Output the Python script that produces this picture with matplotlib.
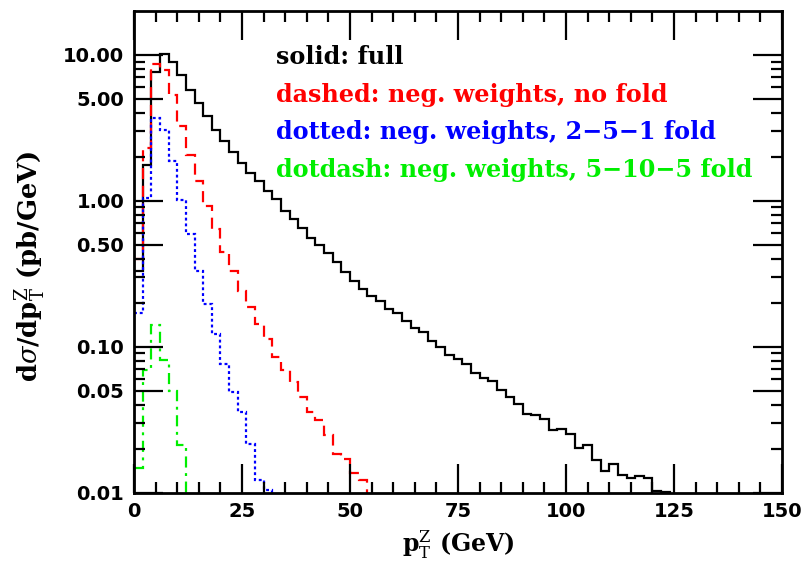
import numpy as np
import matplotlib
matplotlib.use("Agg")
import matplotlib.pyplot as plt

# pT^Z spectrum, 2 GeV bins starting at 0
bin_width = 2.0
full = [0.33, 1.77, 7.6, 10.2, 8.95, 7.3, 5.75, 4.67, 3.79, 3.07, 2.56, 2.16,
        1.817, 1.553, 1.362, 1.164, 1.023, 0.851, 0.746, 0.655, 0.558, 0.499,
        0.441, 0.378, 0.323, 0.283, 0.248, 0.223, 0.206, 0.1815,
        0.1695, 0.149, 0.1345, 0.1256, 0.110, 0.0993, 0.0871, 0.0826, 0.0764,
        0.0659, 0.061, 0.0578, 0.0502, 0.0452, 0.0407, 0.0348,
        0.0339, 0.0322, 0.0268, 0.0275, 0.0252, 0.0201, 0.0212, 0.0167,
        0.0141, 0.0156, 0.0132, 0.01265, 0.0131, 0.01254, 0.01027, 0.0101]
no_fold = [0.40, 2.30, 8.7, 7.9, 5.3, 3.24, 2.07, 1.36, 0.92, 0.638, 0.449,
           0.331, 0.241, 0.187, 0.143, 0.113, 0.0848, 0.0689, 0.0573, 0.0452,
           0.0357, 0.0313, 0.0248, 0.0184, 0.0169, 0.0136, 0.0122]
fold_251 = [0.171, 1.05, 3.67, 3.07, 1.87, 1.02, 0.59, 0.331, 0.196, 0.122,
            0.0764, 0.0489, 0.0357, 0.0217, 0.0123, 0.0104]
fold_5105 = [0.0148, 0.0689, 0.14, 0.0815, 0.0497, 0.0212]

yticks = [0.01, 0.05, 0.1, 0.5, 1, 5, 10]
ytick_labels = ["0.01", "0.05", "0.10", "0.50", "1.00", "5.00", "10.00"]
xticks = [0, 25, 50, 75, 100, 125, 150]

labels = ["solid: full",
          "dashed: neg. weights, no fold",
          "dotted: neg. weights, 2\u22125\u22121 fold",
          "dotdash: neg. weights, 5\u221210\u22125 fold"]
colors = ["black", "red", "blue", "#00ee00"]

plt.rcParams["mathtext.fontset"] = "dejavuserif"

fig = plt.figure(figsize=(8.03, 5.63), dpi=100)
ax = fig.add_axes([0.1669, 0.125, 0.8070, 0.8556])


def draw(vals, color, ls):
    # one extra empty bin so the histogram drops below the axis
    v = np.append(np.array(vals), 1e-4)
    edges = np.arange(len(v) + 1) * bin_width
    ax.stairs(v, edges, baseline=None, color=color, lw=1.6, linestyle=ls)


draw(full, colors[0], "-")
draw(no_fold, colors[1], (0, (5, 3)))
draw(fold_251, colors[2], (0, (1.3, 1.3)))
draw(fold_5105, colors[3], (0, (5, 2.5, 1.3, 2.5)))

ax.set_yscale("log")
ax.set_xlim(0, 150)
ax.set_ylim(0.01, 20)

ax.set_xticks(xticks)
ax.set_xticks(np.arange(0, 151, 5), minor=True)
ax.set_yticks(yticks)
ax.set_yticklabels(ytick_labels)
minor_y = [k * 10.0 ** e for e in range(-2, 2) for k in (2, 3, 4, 6, 7, 8, 9)]
ax.set_yticks([m for m in minor_y if m < 20], minor=True)
ax.yaxis.set_minor_formatter(matplotlib.ticker.NullFormatter())

ax.tick_params(which="major", direction="in", length=21, width=1.6,
               top=True, right=True, labelsize=14, pad=7)
ax.tick_params(which="minor", direction="in", length=8, width=1.6,
               top=True, right=True)
for lab in ax.get_xticklabels() + ax.get_yticklabels():
    lab.set_fontweight("bold")
    lab.set_family("DejaVu Sans")
for sp in ax.spines.values():
    sp.set_linewidth(2)

ax.set_xlabel(r"p$_{\rm T}^{\rm Z}$ (GeV)", fontsize=17, family="DejaVu Serif",
              fontweight="bold")
ax.set_ylabel(r"d$\sigma$/dp$_{\rm T}^{\rm Z}$ (pb/GeV)", fontsize=18.5,
              family="DejaVu Serif", fontweight="bold")
ax.xaxis.set_label_coords(0.5, -0.075)
ax.yaxis.set_label_coords(-0.133, 0.47)

ys = [0.9045, 0.8256, 0.7488, 0.6699]
for txt, c, y in zip(labels, colors, ys):
    ax.text(0.219, y, txt, color=c, transform=ax.transAxes, fontsize=17.2,
            family="DejaVu Serif", fontweight="bold", va="center", ha="left")

fig.savefig("out.png", dpi=100)
